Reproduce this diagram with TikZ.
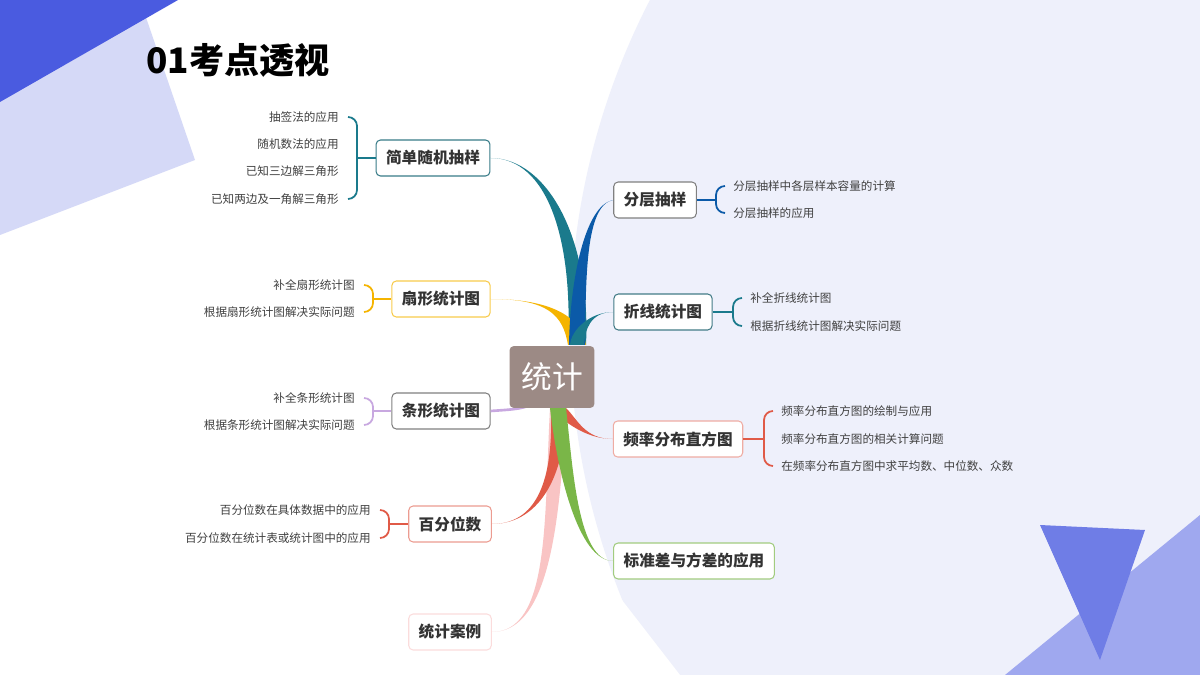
\documentclass[tikz,border=0pt]{standalone}
\usepackage{fontspec}
\setmainfont{Noto Sans CJK SC}
\usetikzlibrary{calc}
\definecolor{teal1}{HTML}{1A7A8C}
\definecolor{blue1}{HTML}{0B5AA8}
\definecolor{orange1}{HTML}{F5B400}
\definecolor{lilac1}{HTML}{C8A8E0}
\definecolor{red1}{HTML}{E05A47}
\definecolor{pink1}{HTML}{F9C4C4}
\definecolor{green1}{HTML}{7AB648}
\definecolor{bgl}{HTML}{EEF0FB}
\definecolor{centerc}{HTML}{9C8A85}
\definecolor{tri1}{HTML}{D5D9F7}
\definecolor{tri2}{HTML}{4A5BE0}
\definecolor{tri3}{HTML}{9FA8EF}
\definecolor{tri4}{HTML}{6F7DE6}
\newcommand\br[6]{\fill[#1] (#2) .. controls (#3) and ($(#4)+(-#6,0)$) .. ($(#5)+(-#6,0)$) -- ($(#5)+(#6,0)$) .. controls ($(#4)+(#6,0)$) and (#3) .. (#2);}
\newcommand\lbr[6]{\draw[#6,line width=1pt] ({#1-9},#2) to[out=0,in=90] (#1,{#2+9}) -- (#1,{#3-9}) to[out=-90,in=0] ({#1-9},#3);
\draw[#6,line width=1pt] (#1,#4) -- (#5);}
\newcommand\rbr[6]{\draw[#6,line width=1pt] ({#1+9},#2) to[out=180,in=90] (#1,{#2+9}) -- (#1,{#3-9}) to[out=-90,in=180] ({#1+9},#3);
\draw[#6,line width=1pt] (#1,#4) -- (#5);}
\tikzset{
 box/.style={draw=#1,fill=white,rounded corners=2.5pt,line width=0.6pt,minimum height=0.72cm,inner xsep=0.2cm,font=\fontsize{8.9}{10}\selectfont\bfseries,text=black!80},
 leaf/.style={font=\fontsize{6.6}{8}\selectfont,text=black!75,inner sep=0pt}
}
\begin{document}
\begin{tikzpicture}[x=0.02cm,y=-0.02cm]
\useasboundingbox (0,0) rectangle (1200,675);
\fill[white] (0,0) rectangle (1200,675);
\begin{scope}
\clip (0,0) rectangle (1200,675);
\fill[bgl] (1290,330) ellipse [x radius=720, y radius=720];
\fill[white] (560,520) -- (680,675) -- (500,675) -- cycle;
\end{scope}
\fill[tri1] (140,0) -- (195,160) -- (0,235) -- (0,0) -- cycle;
\fill[tri2] (0,0) -- (178,0) -- (0,102) -- cycle;
\fill[tri3] (1005,675) -- (1200,515) -- (1200,675) -- cycle;
\fill[tri4] (1040,525) -- (1145,530) -- (1100,660) -- cycle;
\node[anchor=west,font=\fontsize{20}{24}\selectfont\bfseries] (title) at (140,60) {01考点透视};

\node[box=teal1!70!gray] (a) at (433,158) {简单随机抽样};
\node[box=orange1!70] (b) at (441,299) {扇形统计图};
\node[box=gray] (c) at (441,411) {条形统计图};
\node[box=red1!60] (d) at (450,524) {百分位数};
\node[box=pink1!60] (e) at (450,632) {统计案例};
\node[box=gray] (f) at (655,200) {分层抽样};
\node[box=teal1!60!gray] (g) at (663,312) {折线统计图};
\node[box=red1!50] (h) at (678,439) {频率分布直方图};
\node[box=green1!70] (i) at (694,561) {标准差与方差的应用};

\coordinate (rt) at (577,345);
\coordinate (rb) at (558,408);
\br{teal1}{a.east}{548,158}{582,240}{rt}{9}
\br{orange1}{b.east}{548,299}{572,315}{rt}{9}
\br{pink1}{e.east}{550,632}{552,520}{rb}{8}
\br{red1}{d.east}{542,524}{560,470}{rb}{7}
\br{blue1}{f.west}{585,205}{578,280}{rt}{8}
\br{teal1}{g.west}{590,312}{578,330}{rt}{7}
\br{red1}{h.west}{585,439}{570,420}{rb}{8}
\br{green1}{i.west}{578,561}{565,470}{rb}{8}
\draw[lilac1,line width=1.5pt] (c.east) .. controls (520,409) .. (540,402);

\node[fill=centerc,rounded corners=2.5pt,minimum width=1.7cm,minimum height=1.24cm,text=white,font=\fontsize{17.5}{20}\selectfont] (root) at (552,377) {统计};

\node[leaf,anchor=east] (a1) at (339,117) {抽签法的应用};
\node[leaf,anchor=east] (a2) at (339,144) {随机数法的应用};
\node[leaf,anchor=east] (a3) at (339,171) {已知三边解三角形};
\node[leaf,anchor=east] (a4) at (339,199) {已知两边及一角解三角形};
\lbr{357}{117}{199}{158}{a.west}{teal1}
\node[leaf,anchor=east] (b1) at (355,285) {补全扇形统计图};
\node[leaf,anchor=east] (b2) at (355,312) {根据扇形统计图解决实际问题};
\lbr{373}{285}{312}{299}{b.west}{orange1}
\node[leaf,anchor=east] (c1) at (355,398) {补全条形统计图};
\node[leaf,anchor=east] (c2) at (355,425) {根据条形统计图解决实际问题};
\lbr{373}{398}{425}{411}{c.west}{lilac1}
\node[leaf,anchor=east] (d1) at (371,510) {百分位数在具体数据中的应用};
\node[leaf,anchor=east] (d2) at (371,538) {百分位数在统计表或统计图中的应用};
\lbr{389}{510}{538}{524}{d.west}{red1}
\node[leaf,anchor=west] (f1) at (733,186) {分层抽样中各层样本容量的计算};
\node[leaf,anchor=west] (f2) at (733,213) {分层抽样的应用};
\rbr{716}{186}{213}{200}{f.east}{blue1}
\node[leaf,anchor=west] (g1) at (750,298) {补全折线统计图};
\node[leaf,anchor=west] (g2) at (750,326) {根据折线统计图解决实际问题};
\rbr{733}{298}{326}{312}{g.east}{teal1}
\node[leaf,anchor=west] (h1) at (781,411) {频率分布直方图的绘制与应用};
\node[leaf,anchor=west] (h2) at (781,439) {频率分布直方图的相关计算问题};
\node[leaf,anchor=west] (h3) at (781,466) {在频率分布直方图中求平均数、中位数、众数};
\rbr{764}{411}{466}{439}{h.east}{red1}
\end{tikzpicture}
\end{document}
